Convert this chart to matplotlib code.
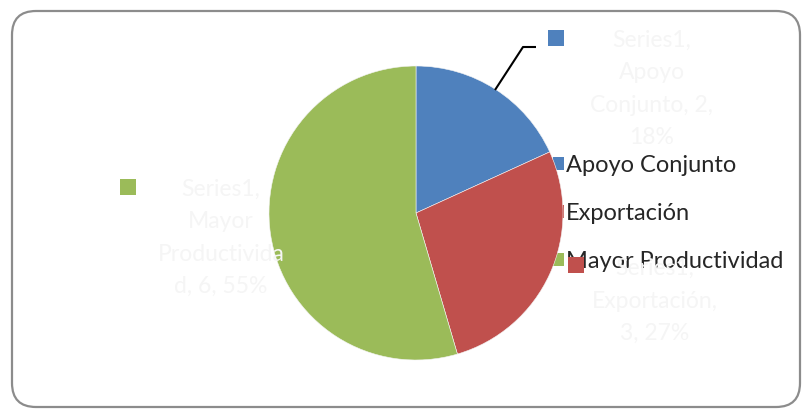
import matplotlib
matplotlib.use("Agg")
import matplotlib.pyplot as plt
from matplotlib.patches import FancyBboxPatch, Rectangle

# data
categories = ["Apoyo Conjunto", "Exportación", "Mayor Productividad"]
values = [2, 3, 6]
series_name = "Series1"
colors = ["#4F81BD", "#C0504D", "#9BBB59"]

plt.rcParams['font.family'] = ['Lato', 'DejaVu Sans']

W, H = 810, 412
fig = plt.figure(figsize=(W / 100, H / 100), dpi=100)
ax = fig.add_axes([0, 0, 1, 1])
ax.set_xlim(0, W)
ax.set_ylim(0, H)
ax.set_aspect('equal')
ax.axis('off')


def py(y):
    # pixel row -> data y
    return H - y


# outer chart frame with rounded corners
frame = FancyBboxPatch((12, py(407)), 788, 396,
                       boxstyle="round,pad=0,rounding_size=24",
                       fc="white", ec="#8c8c8c", lw=1.6, zorder=0)
ax.add_patch(frame)

wedges, _ = ax.pie(values, colors=colors, startangle=90, counterclock=False,
                   center=(416, py(213)), radius=147,
                   wedgeprops=dict(lw=0.4, ec="#f4f4f4", zorder=2))
ax.set_xlim(0, W)
ax.set_ylim(0, H)

# legend sits beneath the pie
leg = ax.legend(wedges, categories, loc="upper left",
                bbox_to_anchor=(553 / W, 1 - 155 / H), frameon=False,
                fontsize=17, labelspacing=1.15, handlelength=0.46,
                handleheight=0.46, handletextpad=0.1, borderpad=0,
                borderaxespad=0, labelcolor="#262626")
leg.set_zorder(1)
for h in leg.legend_handles:
    h.set_edgecolor("none")


def wrap(s, width=12):
    lines, cur = [], ""
    for w in s.split(" "):
        if cur and len(cur) + 1 + len(w) <= width:
            cur += " " + w
            continue
        if cur:
            lines.append(cur)
            cur = ""
        while len(w) > width:
            lines.append(w[:width])
            w = w[width:]
        cur = w
    if cur:
        lines.append(cur)
    return "\n".join(lines)


total = sum(values)
# data label text centres and marker squares (pixel positions)
label_pos = [(652, 89), (655, 301), (221, 238)]
marker_pos = [(556, 38), (576, 265), (128, 187)]

for cat, v, c, (lx, ly), (mx, my) in zip(categories, values, colors,
                                         label_pos, marker_pos):
    pct = round(v / total * 100)
    txt = wrap(f"{series_name}, {cat}, {v}, {pct}%")
    ax.text(lx, py(ly), txt, ha="center", va="center", fontsize=16.5,
            color="#f5f5f5", linespacing=1.66, zorder=4)
    ax.add_patch(Rectangle((mx - 8, py(my) - 8), 16, 16, fc=c, ec="none",
                           zorder=5))

# leader line for the first slice
ax.plot([495, 523, 536], [py(90), py(47), py(47)], color="black", lw=1.5,
        zorder=3, solid_capstyle="butt")

fig.savefig("out.png", dpi=100)
